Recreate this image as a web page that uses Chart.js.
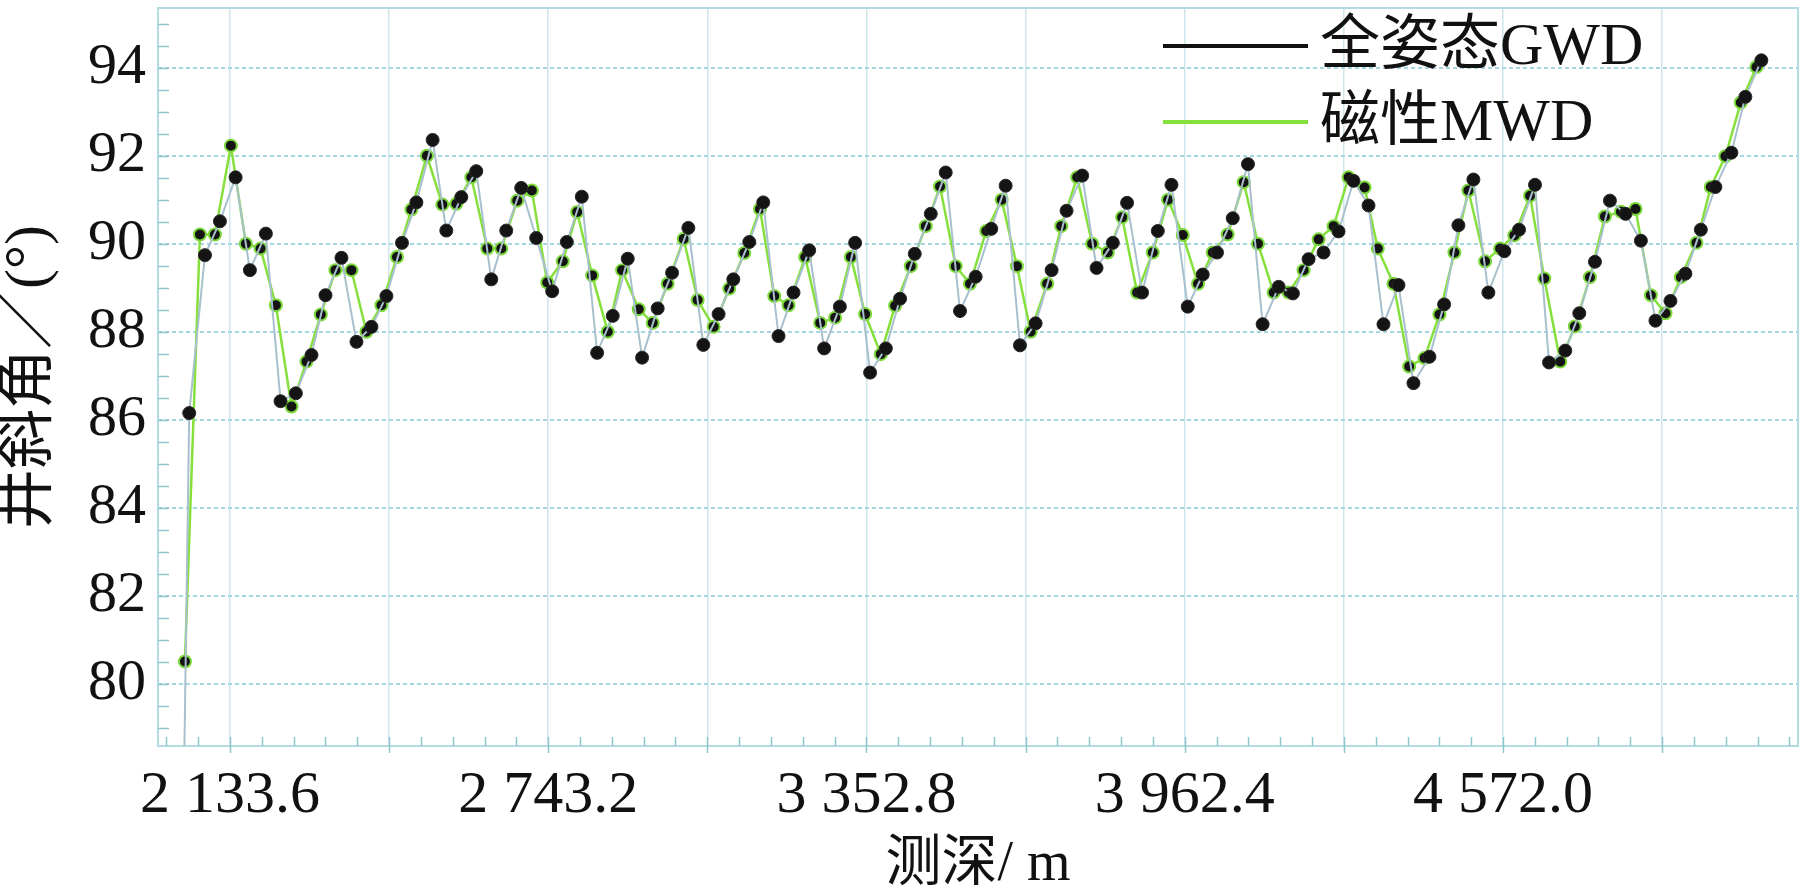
<!DOCTYPE html>
<html>
<head>
<meta charset="utf-8">
<script src="https://cdn.jsdelivr.net/npm/chart.js@4/dist/chart.umd.min.js"></script>
<style>
  body { margin: 0; background: #fff; }
  #wrap { width: 1806px; height: 893px; }
</style>
</head>
<body>
<div id="wrap"><canvas id="incChart" width="1806" height="893"></canvas></div>
<script>
const gwdDepth = [2027.0, 2055.7, 2085.8, 2114.5, 2144.5, 2171.9, 2202.5, 2230.6, 2259.9, 2289.9,
  2316.7, 2347.3, 2376.0, 2404.7, 2433.4, 2463.2, 2490.8, 2521.9, 2548.1, 2576.8,
  2605.5, 2634.2, 2662.9, 2691.6, 2720.3, 2750.9, 2778.9, 2807.6, 2837.0, 2866.9,
  2895.6, 2923.1, 2952.9, 2980.5, 3011.7, 3040.4, 3069.6, 3097.8, 3128.4, 3155.1,
  3184.4, 3213.1, 3243.1, 3271.8, 3301.9, 3331.1, 3359.8, 3389.9, 3417.2, 3445.3,
  3476.0, 3504.6, 3532.0, 3562.0, 3591.9, 3619.4, 3646.8, 3676.8, 3707.4, 3736.1,
  3766.0, 3793.5, 3824.7, 3852.0, 3880.7, 3910.8, 3937.0, 3968.2, 3996.9, 4024.2,
  4054.3, 4083.5, 4111.6, 4142.3, 4169.6, 4199.6, 4228.3, 4257.0, 4285.7, 4314.4,
  4343.1, 4371.8, 4400.5, 4431.1, 4459.2, 4486.6, 4515.3, 4544.0, 4574.6, 4602.7,
  4633.3, 4660.1, 4691.3, 4718.1, 4748.1, 4776.8, 4806.6, 4836.1, 4864.0, 4892.7,
  4921.4, 4950.9, 4978.8, 5009.4, 5036.2, 5066.8];
const gwdIncl = [62.4, 86.15, 89.74, 90.51, 91.51, 89.40, 90.23, 86.42, 86.60, 87.47,
  88.83, 89.68, 87.77, 88.11, 88.81, 90.02, 90.94, 92.36, 90.30, 91.06,
  91.65, 89.19, 90.30, 91.27, 90.13, 88.92, 90.04, 91.07, 87.52, 88.36,
  89.66, 87.41, 88.53, 89.34, 90.36, 87.70, 88.40, 89.19, 90.04, 90.94,
  87.90, 88.89, 89.85, 87.62, 88.57, 90.02, 87.07, 87.62, 88.75, 89.77,
  90.68, 91.62, 88.47, 89.25, 90.34, 91.32, 87.69, 88.19, 89.40, 90.75,
  91.55, 89.45, 90.02, 90.93, 88.89, 90.29, 91.34, 88.57, 89.30, 89.80,
  90.58, 91.81, 88.17, 89.02, 88.87, 89.65, 89.80, 90.28, 91.43, 90.87,
  88.17, 89.06, 86.83, 87.43, 88.62, 90.42, 91.46, 88.89, 89.83, 90.32,
  91.34, 87.30, 87.57, 88.42, 89.59, 90.98, 90.68, 90.07, 88.25, 88.70,
  89.32, 90.32, 91.29, 92.07, 93.34, 94.17];

const mwdDepth = [2047.5, 2076.2, 2104.9, 2135.5, 2164.2, 2192.3, 2221.6, 2251.6, 2280.3, 2307.7,
  2335.8, 2366.4, 2395.1, 2423.8, 2453.6, 2481.2, 2511.0, 2540.5, 2567.3, 2596.0,
  2626.6, 2653.4, 2684.0, 2711.9, 2741.4, 2771.2, 2798.8, 2827.4, 2857.3, 2884.8,
  2916.6, 2943.4, 2972.1, 3002.7, 3029.5, 3060.1, 3090.1, 3118.8, 3148.8, 3176.2,
  3203.6, 3235.5, 3264.2, 3292.9, 3322.9, 3350.3, 3380.3, 3407.7, 3437.7, 3466.4,
  3493.7, 3523.8, 3551.1, 3582.3, 3611.8, 3641.0, 3667.3, 3699.0, 3725.8, 3756.4,
  3785.1, 3815.1, 3842.5, 3871.2, 3901.2, 3930.5, 3958.6, 3987.9, 4016.0, 4044.7,
  4075.3, 4102.7, 4132.7, 4161.4, 4190.1, 4218.8, 4247.5, 4276.2, 4306.8, 4332.2,
  4362.2, 4392.3, 4421.6, 4450.2, 4478.9, 4505.7, 4537.7, 4566.4, 4593.7, 4623.8,
  4651.1, 4681.7, 4709.5, 4738.5, 4767.2, 4797.8, 4825.8, 4855.2, 4883.2, 4912.6,
  4942.5, 4970.0, 4998.0, 5027.4, 5057.3];
const mwdIncl = [80.50, 90.21, 90.21, 92.23, 90.00, 89.89, 88.60, 86.30, 87.32, 88.39,
  89.40, 89.40, 88.00, 88.60, 89.70, 90.78, 92.00, 90.89, 90.91, 91.51,
  89.89, 89.89, 90.98, 91.21, 89.12, 89.60, 90.72, 89.28, 88.00, 89.40,
  88.51, 88.20, 89.09, 90.11, 88.72, 88.11, 88.98, 89.79, 90.79, 88.81,
  88.60, 89.70, 88.20, 88.32, 89.70, 88.40, 87.49, 88.59, 89.49, 90.40,
  91.30, 89.49, 89.09, 90.29, 91.00, 89.49, 88.00, 89.09, 90.40, 91.51,
  90.00, 89.80, 90.60, 88.89, 89.80, 91.00, 90.20, 89.09, 89.80, 90.21,
  91.40, 90.00, 88.89, 88.89, 89.40, 90.10, 90.40, 91.51, 91.28, 89.89,
  89.09, 87.21, 87.40, 88.39, 89.80, 91.21, 89.60, 89.89, 90.19, 91.09,
  89.21, 87.32, 88.12, 89.24, 90.62, 90.73, 90.79, 88.83, 88.42, 89.24,
  90.02, 91.29, 91.99, 93.21, 94.02];

const xLabelValues = [2133.6, 2743.2, 3352.8, 3962.4, 4572.0];
const yLabelValues = [80, 82, 84, 86, 88, 90, 92, 94];

const serif = '"Liberation Serif", "Noto Sans CJK SC", serif';

function fmtDepth(v) {
    // 2133.6 -> "2 133.6"
    return v.toFixed(1).replace(/^(\d)(\d{3})/, '$1 $2');
}

// frame and inward ticks (minor every 200 ft on x, 0.5 deg on y)
const frameTicks = {
    id: 'frameTicks',
    beforeDatasetsDraw(chart) {
        const { ctx, chartArea: a, scales: { x, y } } = chart;
        ctx.save();
        ctx.strokeStyle = '#b3dbe2';
        ctx.lineWidth = 2;
        ctx.strokeRect(a.left, a.top, a.right - a.left, a.bottom - a.top);

        ctx.strokeStyle = '#8ec6ce';
        ctx.lineWidth = 1.5;
        ctx.beginPath();
        const xStep = 60.96;
        for (let k = Math.ceil(x.min / xStep); k * xStep <= x.max; k++) {
            const px = Math.round(x.getPixelForValue(k * xStep)) + 0.5;
            ctx.moveTo(px, a.bottom - 9);
            ctx.lineTo(px, k % 5 === 0 ? a.bottom + 7 : a.bottom);
        }
        for (let k = Math.ceil(y.min * 2); k / 2 <= y.max; k++) {
            const py = Math.round(y.getPixelForValue(k / 2)) + 0.5;
            ctx.moveTo(a.left, py);
            ctx.lineTo(a.left + 11, py);
        }
        ctx.stroke();
        ctx.restore();
    }
};

// legend drawn as long line samples in the upper right
const lineLegend = {
    id: 'lineLegend',
    afterDraw(chart) {
        const ctx = chart.ctx;
        ctx.save();
        chart.data.datasets.forEach((ds, i) => {
            const y = 46 + i * 76;
            ctx.strokeStyle = ds.legendColor;
            ctx.lineWidth = 4;
            ctx.beginPath();
            ctx.moveTo(1163, y);
            ctx.lineTo(1308, y);
            ctx.stroke();
            ctx.fillStyle = '#111';
            ctx.font = '60px ' + serif;
            ctx.textBaseline = 'middle';
            ctx.textAlign = 'left';
            ctx.fillText(ds.label, 1320, y + 2);
        });
        ctx.restore();
    }
};

new Chart(document.getElementById('incChart'), {
    type: 'line',
    data: {
        datasets: [{
            label: '全姿态GWD',
            legendColor: '#111111',
            data: gwdDepth.map((d, i) => ({ x: d, y: gwdIncl[i] })),
            borderColor: '#a8c0cd',
            borderWidth: 2,
            pointRadius: 6.5,
            pointBackgroundColor: '#141414',
            pointBorderColor: '#2a2a2a',
            pointBorderWidth: 1,
            tension: 0
        }, {
            label: '磁性MWD',
            legendColor: '#86e03c',
            data: mwdDepth.map((d, i) => ({ x: d, y: mwdIncl[i] })),
            borderColor: '#86e03c',
            borderWidth: 2.5,
            pointRadius: 6,
            pointBackgroundColor: '#141414',
            pointBorderColor: '#7bd83a',
            pointBorderWidth: 2,
            tension: 0
        }]
    },
    options: {
        responsive: false,
        animation: false,
        layout: { padding: { top: 5, right: 6, left: 0, bottom: 0 } },
        plugins: {
            legend: { display: false },
            tooltip: { enabled: false }
        },
        scales: {
            x: {
                type: 'linear',
                min: 1995.9,
                max: 5137.0,
                afterFit: s => { s.height = 147; s.paddingLeft = 0; s.paddingRight = 0; },
                border: { display: false },
                grid: { color: '#cfe6ec', lineWidth: 1.5, drawTicks: false },
                ticks: {
                    stepSize: 304.8,
                    includeBounds: false,
                    autoSkip: false,
                    maxRotation: 0,
                    padding: 14,
                    color: '#111',
                    font: { family: serif, size: 60 },
                    callback: v => xLabelValues.some(l => Math.abs(l - v) < 0.01) ? fmtDepth(v) : ''
                },
                title: {
                    display: true,
                    text: '测深/ m',
                    color: '#111',
                    padding: 0,
                    font: { family: serif, size: 56, lineHeight: 1 }
                }
            },
            y: {
                min: 78.58,
                max: 95.36,
                afterFit: s => { s.width = 158; s.paddingTop = 0; s.paddingBottom = 0; },
                border: { display: false, dash: [4, 3] },
                grid: { color: '#a6d6df', lineWidth: 2, drawTicks: false },
                ticks: {
                    stepSize: 2,
                    includeBounds: false,
                    padding: 12,
                    color: '#111',
                    font: { family: serif, size: 58 },
                    callback: v => yLabelValues.includes(Math.round(v)) ? String(Math.round(v)) : ''
                },
                title: {
                    display: true,
                    text: '井斜角／(°)',
                    color: '#111',
                    padding: 0,
                    font: { family: serif, size: 60, lineHeight: 1 }
                }
            }
        }
    },
    plugins: [frameTicks, lineLegend]
});
</script>
</body>
</html>
